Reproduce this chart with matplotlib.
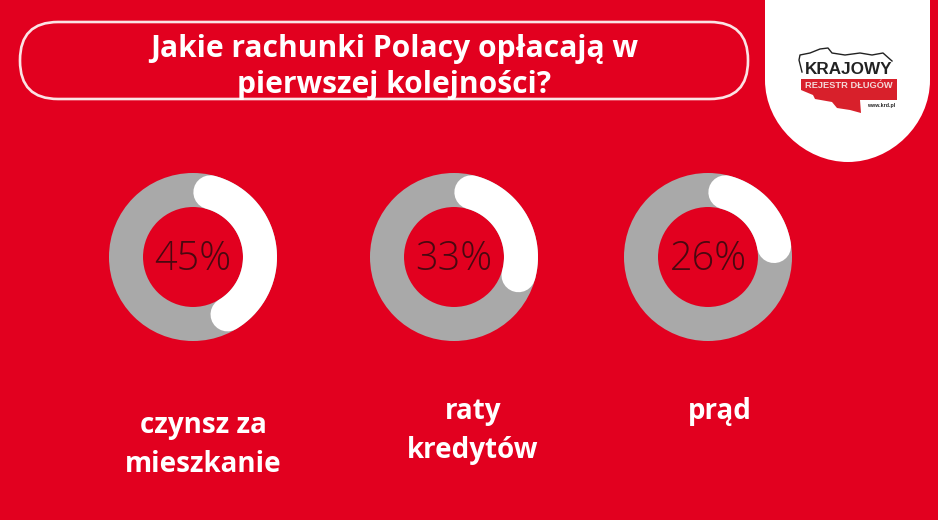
import numpy as np
import matplotlib
matplotlib.use("Agg")
import matplotlib.pyplot as plt
from matplotlib.patches import Circle, FancyBboxPatch, Polygon, PathPatch
from matplotlib.path import Path

title = "Jakie rachunki Polacy opłacają w\npierwszej kolejności?"
categories = ["czynsz za\nmieszkanie", "raty\nkredytów", "prąd"]
values = [45, 33, 26]
value_labels = ["45%", "33%", "26%"]

RED = "#e2001f"
GREY = "#a9a9a9"
WHITE = "#ffffff"
TEXT_DARK = "#4a0810"

centers_x = [193, 454, 708]
center_y = 257
label_x = [203, 473, 720]
label_y = [445, 431, 411]
ring_radius = 67
ring_px = 34
cap_deg = 14.5


def draw_donut(ax, cx, cy, value, text):
    lw = ring_px * 72 / 100
    ax.add_patch(Circle((cx, cy), ring_radius, fill=False, ec=GREY, lw=lw))
    # white arc with round ends, angles clockwise from the top
    start = 15
    sweep = value * 3.6 - 2 * cap_deg + 1
    theta = np.radians(np.linspace(start, start + sweep, 200))
    ax.plot(cx + ring_radius * np.sin(theta), cy - ring_radius * np.cos(theta),
            color=WHITE, lw=lw, solid_capstyle="round")
    ax.text(cx, cy + 2, text, ha="center", va="center", fontsize=28.5, color=TEXT_DARK,
            family="Open Sans", weight="light")


def draw_logo(ax):
    # white tab in the corner
    verts = [(765, 0), (765, 80), (765, 125), (805, 162), (848, 162), (891, 162), (930, 125), (930, 80), (930, 0), (765, 0)]
    codes = [Path.MOVETO, Path.LINETO, Path.CURVE4, Path.CURVE4, Path.CURVE4, Path.CURVE4, Path.CURVE4, Path.CURVE4, Path.LINETO, Path.CLOSEPOLY]
    ax.add_patch(PathPatch(Path(verts, codes), fc=WHITE, ec="none"))

    outline_x = [802, 799, 800, 810, 820, 828, 832, 845, 860, 872, 883, 892]
    outline_y = [72, 60, 55, 53, 49, 48, 53, 55, 53, 55, 53, 61]
    ax.plot(outline_x, outline_y, color="#222222", lw=1.0)
    shape = [(801, 79), (897, 79), (897, 100), (860, 100), (861, 113), (850, 110), (837, 108),
             (832, 102), (815, 99), (813, 95), (801, 90)]
    ax.add_patch(Polygon(shape, fc="#d8202b", ec="none"))
    ax.text(849, 69, "KRAJOWY", ha="center", va="center", fontsize=12.3, weight="bold",
            family="Liberation Sans", color="#222222")
    ax.text(849, 86, "REJESTR DŁUGÓW", ha="center", va="center", fontsize=6.7, weight="bold",
            family="Liberation Sans", color="#f4d8d8")
    ax.text(881, 105, "www.krd.pl", ha="center", va="center", fontsize=3.8, weight="bold",
            family="Liberation Sans", color="#222222")


def main():
    fig = plt.figure(figsize=(9.38, 5.2), dpi=100, facecolor=RED)
    ax = fig.add_axes([0, 0, 1, 1])
    ax.set_xlim(0, 938)
    ax.set_ylim(520, 0)
    ax.axis("off")

    ax.add_patch(FancyBboxPatch((20, 22), 728, 77, boxstyle="round,pad=0,rounding_size=38", fill=False,
                                ec="#fbe3e5", lw=1.9))
    ax.text(394, 67, title, ha="center", va="center", fontsize=21.6, weight="bold", color=WHITE,
            family="Open Sans", linespacing=1.22)

    for cx, val, txt, cat, lx, ly in zip(centers_x, values, value_labels, categories, label_x, label_y):
        draw_donut(ax, cx, center_y, val, txt)
        ax.text(lx, ly, cat, ha="center", va="center", fontsize=20, weight="bold", color=WHITE,
                family="Open Sans", linespacing=1.42)

    draw_logo(ax)
    fig.savefig("out.png", dpi=100, facecolor=RED)


if __name__ == "__main__":
    main()
